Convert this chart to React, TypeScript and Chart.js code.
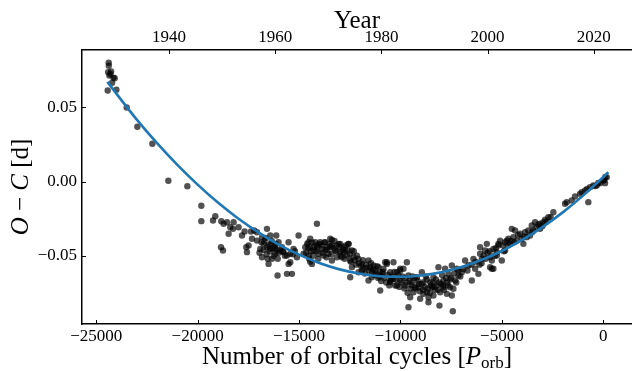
import { useEffect, useRef } from "react";
import { Chart, registerables } from "chart.js";
Chart.register(...registerables);

// ---- axis ranges and ticks ----
const X_MIN = -25700;
const X_MAX = 1414;
const Y_MIN = -0.096;
const Y_MAX = 0.0886;
const EPOCH_YEAR = 2021.8; // year at cycle 0
const CYCLES_PER_YEAR = 261.7;
const xTicks = [-25000, -20000, -15000, -10000, -5000, 0];
const yTicks = [-0.05, 0, 0.05];
const yearTicks = [1940, 1960, 1980, 2000, 2020];

const TOP_TITLE = "Year";
const X_TITLE_MAIN = "Number of orbital cycles [";
const X_TITLE_SYM = "P";
const X_TITLE_SUB = "orb";
const X_TITLE_END = "]";
const Y_TITLE_O = "O";
const Y_TITLE_MINUS = " \u2212 ";
const Y_TITLE_C = "C";
const Y_TITLE_UNIT = " [d]";

// ---- observed O-C (cycle, days) ----
const observations: [number, number][] = [
  [-24384, 0.08], [-24380, 0.078], [-24413, 0.0737], [-24265, 0.0741], [-24349, 0.0714],
  [-24300, 0.0725], [-24150, 0.07], [-24088, 0.0696], [-24216, 0.0665], [-24433, 0.0613],
  [-24004, 0.0618], [-23497, 0.0499], [-22970, 0.0369], [-22231, 0.0254], [-21443, 0.0005],
  [-20507, -0.0032], [-19817, -0.0163], [-19817, -0.0267],
  [-19128, -0.0234], [-19241, -0.0263], [-18832, -0.0268], [-18719, -0.0285], [-18551, -0.0274],
  [-18389, -0.0308], [-18226, -0.0274], [-18256, -0.0319], [-18472, -0.0352], [-18847, -0.0443],
  [-18749, -0.0465], [-17980, -0.0308], [-17812, -0.0364], [-17685, -0.0337], [-17601, -0.0443],
  [-17566, -0.0476], [-17369, -0.0337], [-17207, -0.033], [-17074, -0.0342], [-17320, -0.0386],
  [-17487, -0.0431], [-17074, -0.0398], [-16581, -0.0319], [-16827, -0.0375], [-16418, -0.0364],
  [-16123, -0.0364], [-16748, -0.042], [-16581, -0.0443], [-16418, -0.0454], [-16911, -0.0454],
  [-16827, -0.051], [-16502, -0.0555], [-16335, -0.0521], [-16172, -0.0487], [-15926, -0.0465],
  [-15763, -0.0476], [-15517, -0.0409], [-15596, -0.0499], [-15433, -0.0487], [-15517, -0.0555],
  [-15596, -0.0622], [-15349, -0.0622], [-16059, -0.0633], [-15103, -0.051], [-15024, -0.0364],
  [-16172, -0.0431], [-16010, -0.0409], [-15842, -0.0443], [-15271, -0.0454],
  [-16700, -0.04], [-16400, -0.042], [-16200, -0.045], [-16000, -0.048], [-15800, -0.047],
  [-15700, -0.05], [-15300, -0.049], [-15200, -0.047],
  [-16850, -0.041], [-16750, -0.046], [-16650, -0.038], [-16600, -0.049], [-16500, -0.043],
  [-16450, -0.047], [-16350, -0.04], [-16300, -0.045], [-16250, -0.05], [-16150, -0.042],
  [-16100, -0.046], [-16050, -0.052], [-16950, -0.048], [-16550, -0.052],
  [-14118, -0.0285], [-15433, -0.0544], [-14778, -0.0487], [-14532, -0.0409], [-14448, -0.0443],
  [-14532, -0.0499], [-14364, -0.0555], [-14286, -0.0465], [-14118, -0.0431], [-14039, -0.0487],
  [-13872, -0.0454], [-13793, -0.0499], [-13625, -0.0443], [-13463, -0.0386], [-13379, -0.0431],
  [-13379, -0.0532], [-13217, -0.0465], [-13133, -0.0431], [-12970, -0.0476], [-12808, -0.0443],
  [-12887, -0.051], [-12640, -0.0499], [-12561, -0.042], [-12394, -0.0465], [-12478, -0.0532],
  [-12394, -0.0577], [-12315, -0.051], [-12069, -0.0521], [-11901, -0.0555], [-11822, -0.0588],
  [-11576, -0.0532], [-11492, -0.0577], [-11330, -0.0566], [-11409, -0.0611], [-11246, -0.06],
  [-11084, -0.0577], [-11000, -0.0611], [-10837, -0.0588], [-10753, -0.0544], [-10670, -0.0555],
  [-10507, -0.0611], [-10507, -0.0667], [-11000, -0.0734], [-11409, -0.0645], [-11576, -0.0667],
  [-10345, -0.0656], [-10177, -0.0701], [-10015, -0.06], [-12478, -0.0645], [-12069, -0.0611],
  [-14448, -0.0386], [-14202, -0.0409], [-13956, -0.0409], [-13709, -0.0409], [-13546, -0.0487],
  [-13133, -0.051], [-12724, -0.0465], [-14694, -0.0443], [-13379, -0.0393], [-12970, -0.042],
  [-12561, -0.042],
  [-14600, -0.042], [-14400, -0.047], [-14100, -0.045], [-13900, -0.043], [-13700, -0.046],
  [-13500, -0.042], [-13300, -0.045], [-13000, -0.044], [-12800, -0.048], [-12600, -0.046],
  [-14550, -0.045], [-14500, -0.052], [-14350, -0.041], [-14300, -0.05], [-14250, -0.044],
  [-14150, -0.047], [-14050, -0.052], [-14000, -0.042], [-14650, -0.048], [-14450, -0.054],
  [-13850, -0.048], [-13750, -0.041], [-13650, -0.051], [-13600, -0.046], [-13450, -0.044],
  [-13400, -0.049], [-13250, -0.04], [-13150, -0.047], [-13050, -0.042], [-12950, -0.05],
  [-12850, -0.046], [-12750, -0.052], [-12700, -0.043], [-12500, -0.049], [-12450, -0.054],
  [-12300, -0.047], [-12250, -0.053], [-12150, -0.05], [-12050, -0.055],
  [-12200, -0.056], [-11900, -0.06], [-11700, -0.056], [-11300, -0.063], [-11100, -0.065],
  [-10900, -0.062], [-10700, -0.068], [-10400, -0.064],
  [-11950, -0.057], [-11850, -0.053], [-11750, -0.062], [-11650, -0.058], [-11550, -0.06],
  [-11450, -0.055], [-11350, -0.059], [-11200, -0.062], [-11150, -0.057], [-11050, -0.064],
  [-10950, -0.067], [-10850, -0.061], [-10800, -0.065], [-10600, -0.063], [-10550, -0.07],
  [-10450, -0.066], [-10300, -0.061], [-10200, -0.066], [-10100, -0.063], [-10050, -0.071],
  [-10345, -0.0544], [-9685, -0.0544], [-9852, -0.0588], [-10507, -0.0679], [-10261, -0.0701],
  [-10015, -0.0667], [-9768, -0.0701], [-9606, -0.0633], [-9438, -0.0679], [-9359, -0.0746],
  [-9192, -0.0645], [-9113, -0.0712], [-8946, -0.0611], [-8867, -0.0679], [-8699, -0.0746],
  [-8620, -0.078], [-8537, -0.0679], [-8374, -0.0645], [-8453, -0.0712], [-8207, -0.0701],
  [-8128, -0.0577], [-8044, -0.0746], [-7882, -0.0667], [-7798, -0.0588], [-7635, -0.0622],
  [-7468, -0.0566], [-7552, -0.0712], [-7468, -0.0768], [-7419, -0.0874], [-8079, -0.0836],
  [-8620, -0.0813], [-9606, -0.0847], [-7222, -0.0588], [-7143, -0.0633], [-7305, -0.0667],
  [-6975, -0.0611], [-6813, -0.0532], [-6650, -0.0566], [-6483, -0.0667], [-6404, -0.0521],
  [-6320, -0.0588], [-6158, -0.0622], [-6074, -0.0487], [-5990, -0.0521], [-5827, -0.0465],
  [-5581, -0.051], [-5497, -0.0588], [-5744, -0.042], [-6074, -0.0443], [-5419, -0.0454],
  [-5251, -0.0476], [-5172, -0.0431], [-10015, -0.0588], [-10177, -0.0611], [-9029, -0.079],
  [-9522, -0.078], [-8374, -0.0768], [-8867, -0.0757], [-9276, -0.0712], [-7882, -0.0712],
  [-7714, -0.0757], [-7389, -0.0723], [-10670, -0.0544],
  [-9900, -0.064], [-9700, -0.068], [-9500, -0.072], [-9300, -0.065], [-9100, -0.069],
  [-8900, -0.073], [-8700, -0.066], [-8500, -0.07], [-8300, -0.073], [-8100, -0.068],
  [-7900, -0.07], [-7700, -0.068], [-7500, -0.065],
  [-9950, -0.068], [-9800, -0.072], [-9750, -0.065], [-9650, -0.075], [-9550, -0.067],
  [-9450, -0.07], [-9400, -0.064], [-9250, -0.072], [-9150, -0.067], [-9050, -0.074],
  [-8950, -0.069], [-8800, -0.071], [-8750, -0.064], [-8650, -0.072], [-8550, -0.075],
  [-8400, -0.068], [-8350, -0.071], [-8250, -0.066], [-8150, -0.073], [-8000, -0.069],
  [-7950, -0.063], [-7850, -0.073], [-7750, -0.065], [-7650, -0.07], [-7550, -0.066],
  [-7350, -0.062], [-7250, -0.068], [-7150, -0.06], [-7050, -0.064],
  [-6900, -0.059], [-6700, -0.06], [-6500, -0.056], [-6300, -0.054], [-6100, -0.056],
  [-6000, -0.055], [-5900, -0.05], [-5800, -0.052], [-5700, -0.048], [-5600, -0.047],
  [-5350, -0.05], [-5300, -0.045], [-4950, -0.043], [-4900, -0.047], [-4700, -0.043],
  [-4550, -0.04], [-4400, -0.041], [-4200, -0.036], [-3900, -0.037], [-3700, -0.033],
  [-3500, -0.034], [-3200, -0.029], [-3000, -0.03], [-2800, -0.027], [-2600, -0.024],
  [-5497, -0.0532], [-5419, -0.0588], [-5172, -0.042], [-5089, -0.0398], [-4842, -0.0409],
  [-4680, -0.0386], [-4596, -0.042], [-4433, -0.0375], [-4350, -0.033], [-4266, -0.0398],
  [-4103, -0.0352], [-4020, -0.0386], [-3941, -0.042], [-3857, -0.0342], [-3773, -0.0375],
  [-3611, -0.0364], [-3448, -0.033], [-3281, -0.0308], [-3118, -0.0285], [-2956, -0.0274],
  [-2872, -0.0258], [-2709, -0.0241], [-2463, -0.0207], [-3118, -0.0319], [-1803, -0.0139],
  [-1557, -0.0128], [-1394, -0.0101], [-1148, -0.0083], [-1064, -0.0072], [-739, -0.0139],
  [-655, -0.0038], [-493, -0.0027], [-325, -0.0027], [-163, -0.0011], [84, -0.0011],
  [167, 0.0029], [0, 0.0007], [-1887, -0.015], [-3527, -0.0296], [-3365, -0.0274],
  [-4512, -0.0319], [-4759, -0.0398], [-4842, -0.0465], [-5005, -0.0532], [-5251, -0.0499],
  [-5581, -0.0577],
  [-900, -0.006], [-800, -0.005], [-400, -0.003], [-250, -0.001], [50, 0.001], [100, 0.003],
];

// ---- quadratic ephemeris fit ----
const fitCycles = [-24450, -23000, -22000, -21000, -20000, -19000, -18000, -17000, -16000, -15000,
  -14000, -13000, -12000, -11000, -10000, -9000, -8000, -7000, -6000, -5000, -4000, -3000, -2000,
  -1000, 0, 250];
const fitOC = [0.0671, 0.0417, 0.0258, 0.0112, -0.0021, -0.0142, -0.0249, -0.0343, -0.0425, -0.0493,
  -0.0549, -0.0592, -0.0621, -0.0638, -0.0642, -0.0633, -0.0611, -0.0576, -0.0528, -0.0468, -0.0394,
  -0.0307, -0.0208, -0.0095, 0.003, 0.0063];

const FONT = "'Liberation Serif', 'Times New Roman', serif";
const yearOf = (c: number) => EPOCH_YEAR + c / CYCLES_PER_YEAR;
const minusFmt = (s: string) => s.replace("-", "\u2212");

type Run = { t: string; f: string; dy?: number };
function drawRuns(ctx: CanvasRenderingContext2D, runs: Run[], cx: number, baseline: number) {
  let total = 0;
  for (const r of runs) { ctx.font = r.f; total += ctx.measureText(r.t).width; }
  let x = cx - total / 2;
  ctx.textAlign = "left";
  ctx.textBaseline = "alphabetic";
  for (const r of runs) {
    ctx.font = r.f;
    ctx.fillText(r.t, x, baseline + (r.dy || 0));
    x += ctx.measureText(r.t).width;
  }
}

const framePlugin = {
  id: "frame",
  afterDraw(chart: any) {
    const { ctx, chartArea: a, scales } = chart;
    ctx.save();
    ctx.strokeStyle = "#000";
    ctx.lineWidth = 1;
    const L = 4;
    const line = (x1: number, y1: number, x2: number, y2: number) => {
      ctx.beginPath(); ctx.moveTo(x1, y1); ctx.lineTo(x2, y2); ctx.stroke();
    };
    for (const t of scales.x.ticks) {
      const p = Math.round(scales.x.getPixelForValue(t.value)) + 0.5;
      line(p, a.bottom, p, a.bottom - L);
    }
    for (const t of scales.xTop.ticks) {
      const p = Math.round(scales.xTop.getPixelForValue(t.value)) + 0.5;
      line(p, a.top, p, a.top + L);
    }
    for (const t of scales.y.ticks) {
      const p = Math.round(scales.y.getPixelForValue(t.value)) + 0.5;
      line(a.left, p, a.left + L, p);
    }
    ctx.fillStyle = "#000";
    const cx = (a.left + a.right) / 2;
    drawRuns(ctx, [{ t: TOP_TITLE, f: `25px ${FONT}` }], cx, 28);
    drawRuns(ctx, [
      { t: X_TITLE_MAIN, f: `25px ${FONT}` },
      { t: X_TITLE_SYM, f: `italic 25px ${FONT}` },
      { t: X_TITLE_SUB, f: `17px ${FONT}`, dy: 4 },
      { t: X_TITLE_END, f: `25px ${FONT}` },
    ], cx, 364);
    ctx.save();
    ctx.translate(28, (a.top + a.bottom) / 2);
    ctx.rotate(-Math.PI / 2);
    drawRuns(ctx, [
      { t: Y_TITLE_O, f: `italic 25px ${FONT}` },
      { t: Y_TITLE_MINUS, f: `25px ${FONT}` },
      { t: Y_TITLE_C, f: `italic 25px ${FONT}` },
      { t: Y_TITLE_UNIT, f: `25px ${FONT}` },
    ], 0, 0);
    ctx.restore();
    ctx.restore();
  },
};

export default function App() {
  const ref = useRef<HTMLCanvasElement>(null);
  useEffect(() => {
    if (!ref.current) return;
    const tickFont = { family: FONT, size: 17 };
    const border = { display: true, color: "#000", width: 1.5 };
    const noPad = (s: any) => { s.paddingLeft = 0; s.paddingRight = 0; };
    const chart = new Chart(ref.current, {
      type: "scatter",
      data: {
        datasets: [
          {
            type: "scatter",
            data: observations.map(([x, y]) => ({ x, y })),
            backgroundColor: "rgba(0,0,0,0.68)",
            borderWidth: 0,
            pointRadius: 3.2,
            xAxisID: "x",
            yAxisID: "y",
            order: 2,
          },
          {
            type: "line",
            data: fitCycles.map((x, i) => ({ x, y: fitOC[i] })),
            borderColor: "#1f77b4",
            borderWidth: 2.6,
            pointRadius: 0,
            cubicInterpolationMode: "monotone",
            fill: false,
            xAxisID: "x",
            yAxisID: "y",
            order: 1,
          },
        ],
      } as any,
      options: {
        animation: false,
        responsive: false,
        devicePixelRatio: 1,
        layout: { padding: 0, autoPadding: false },
        plugins: { legend: { display: false }, tooltip: { enabled: false } },
        scales: {
          x: {
            type: "linear", position: "bottom", min: X_MIN, max: X_MAX,
            afterBuildTicks: (s: any) => { s.ticks = xTicks.map((v) => ({ value: v })); },
            afterFit: (s: any) => { s.height = 47; noPad(s); },
            ticks: { font: tickFont, color: "#000", padding: 2, maxRotation: 0, autoSkip: false,
              callback: (v: any) => minusFmt(String(v)) },
            grid: { display: false, drawTicks: false },
            border,
          },
          xTop: {
            type: "linear", axis: "x", position: "top", min: yearOf(X_MIN), max: yearOf(X_MAX),
            afterBuildTicks: (s: any) => { s.ticks = yearTicks.map((v) => ({ value: v })); },
            afterFit: (s: any) => { s.height = 50; noPad(s); },
            ticks: { font: tickFont, color: "#000", padding: 2, maxRotation: 0, autoSkip: false,
              callback: (v: any) => String(v) },
            grid: { display: false, drawTicks: false },
            border,
          },
          y: {
            type: "linear", position: "left", min: Y_MIN, max: Y_MAX,
            afterBuildTicks: (s: any) => { s.ticks = yTicks.map((v) => ({ value: v })); },
            afterFit: (s: any) => { s.width = 82; s.paddingTop = 0; s.paddingBottom = 0; },
            ticks: { font: tickFont, color: "#000", padding: 5,
              callback: (v: any) => minusFmt(Number(v).toFixed(2)) },
            grid: { display: false, drawTicks: false },
            border,
          },
        },
      } as any,
      plugins: [framePlugin],
    });
    return () => chart.destroy();
  }, []);
  return (
    <div style={{ position: "fixed", left: 0, top: 0, width: 632, height: 371, background: "#fff" }}>
      <canvas ref={ref} width={632} height={371} style={{ display: "block" }} />
    </div>
  );
}
